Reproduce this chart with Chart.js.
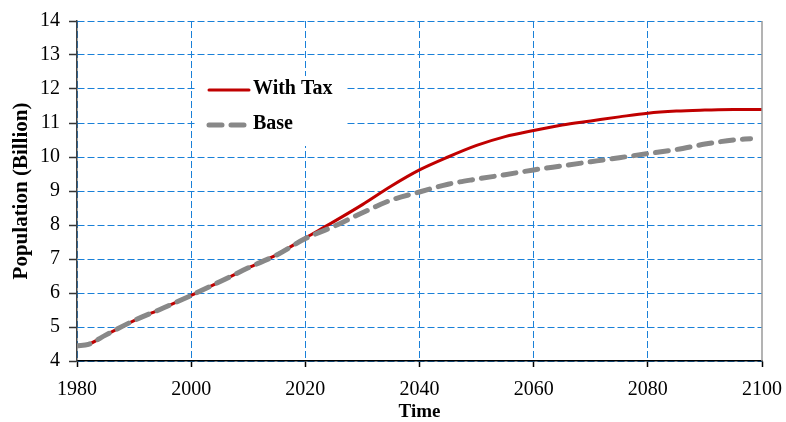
<!DOCTYPE html>
<html>
<head>
<meta charset="utf-8">
<script src="https://cdn.jsdelivr.net/npm/chart.js@4/dist/chart.umd.min.js"></script>
<style>
  html, body { margin: 0; padding: 0; background: #fff; }
  #wrap { width: 786px; height: 422px; }
</style>
</head>
<body>
<div id="wrap"><canvas id="c" width="786" height="422"></canvas></div>
<script>
// Population projections, billions
const taxYears = [1980,1982,1985,1990,1995,2000,2005,2010,2015,2020,2025,2030,2035,2040,2045,2050,2055,2060,2065,2070,2075,2080,2085,2090,2095,2100];
const withTax  = [4.45,4.49,4.76,5.19,5.55,5.93,6.33,6.74,7.13,7.62,8.10,8.60,9.14,9.62,10.00,10.34,10.60,10.78,10.94,11.06,11.18,11.29,11.35,11.38,11.40,11.40];
const baseYears = [1980,1982,1985,1990,1995,2000,2005,2010,2015,2020,2025,2030,2035,2040,2045,2050,2055,2060,2065,2070,2075,2080,2085,2090,2095,2098];
const base      = [4.45,4.49,4.76,5.19,5.55,5.93,6.33,6.74,7.12,7.60,7.96,8.36,8.73,8.97,9.20,9.35,9.48,9.62,9.74,9.86,9.98,10.10,10.22,10.38,10.50,10.54];
const xTicks = [1980,2000,2020,2040,2060,2080,2100];
const yMin = 4, yMax = 14;

const serif = "'Liberation Serif', 'Times New Roman', serif";
const gridBlue = '#1a80d8';

const toPoints = (xs, ys) => xs.map((x, i) => ({ x: x, y: ys[i] }));

// White legend panel with line samples, drawn inside the plot area
const legendPanel = {
  id: 'legendPanel',
  beforeDatasetsDraw(chart) {
    const { ctx, chartArea: a } = chart;
    const x0 = a.left + 119, y0 = a.top + 55;
    ctx.save();
    ctx.fillStyle = '#fff';
    ctx.fillRect(x0, y0, 149, 70);
    const items = [chart.data.datasets[1], chart.data.datasets[0]];
    items.forEach((ds, i) => {
      const y = a.top + 69 + i * 35;
      ctx.beginPath();
      ctx.lineWidth = ds.borderWidth;
      ctx.strokeStyle = ds.borderColor;
      ctx.lineCap = 'round';
      ctx.setLineDash(ds.borderDash || []);
      ctx.moveTo(x0 + 13, y);
      ctx.lineTo(x0 + 53, y);
      ctx.stroke();
      ctx.setLineDash([]);
      ctx.fillStyle = '#000';
      ctx.font = 'bold 20px ' + serif;
      ctx.textBaseline = 'middle';
      ctx.textAlign = 'left';
      ctx.fillText(ds.label, x0 + 57, y - 1);
    });
    ctx.restore();
  },
  afterDatasetsDraw(chart) {
    const { ctx, chartArea: a } = chart;
    ctx.save();
    ctx.strokeStyle = '#9a9a9a';
    ctx.lineWidth = 1.5;
    ctx.beginPath();
    ctx.moveTo(a.right, a.top);
    ctx.lineTo(a.right, a.bottom);
    ctx.stroke();
    ctx.restore();
  }
};

new Chart(document.getElementById('c'), {
  type: 'line',
  data: {
    datasets: [
      {
        label: 'Base',
        data: toPoints(baseYears, base),
        borderColor: '#888888',
        borderWidth: 5,
        borderDash: [13, 9],
        borderCapStyle: 'round',
        pointRadius: 0,
        cubicInterpolationMode: 'monotone',
        order: 0
      },
      {
        label: 'With Tax',
        data: toPoints(taxYears, withTax),
        borderColor: '#c00000',
        borderWidth: 3,
        pointRadius: 0,
        cubicInterpolationMode: 'monotone',
        order: 1
      }
    ]
  },
  options: {
    responsive: false,
    animation: false,
    layout: { padding: { top: 15, right: 24, left: 0, bottom: 0 } },
    plugins: { legend: { display: false }, tooltip: { enabled: false } },
    scales: {
      x: {
        type: 'linear',
        min: 1980, max: 2100,
        afterBuildTicks: s => { s.ticks = xTicks.map(v => ({ value: v })); },
        afterFit: s => { s.height = 61; s.paddingRight = 0; s.paddingLeft = 0; },
        ticks: { color: '#000', font: { family: serif, size: 20 }, padding: 11, maxRotation: 0, autoSkip: false,
                 callback: v => String(v) },
        grid: {
          color: c => (c.tick && c.tick.value === 2100) ? 'rgba(0,0,0,0)' : gridBlue,
          lineWidth: 1, tickLength: 6, tickColor: '#000', tickWidth: 1.5
        },
        border: { display: true, color: '#000', width: 1.5, dash: [7, 3] },
        title: { display: true, text: 'Time', color: '#000', font: { family: serif, size: 19, weight: 'bold', lineHeight: 1 }, padding: { top: 0, bottom: 0 } }
      },
      y: {
        min: yMin, max: yMax,
        ticks: { stepSize: 1, color: '#000', font: { family: serif, size: 20 }, padding: 9 },
        afterFit: s => { s.width = 77; },
        grid: { color: gridBlue, lineWidth: 1, tickLength: 8, tickColor: '#333', tickWidth: 1.5 },
        border: { display: true, color: '#444', width: 1.5, dash: [7, 3] },
        title: { display: true, text: 'Population (Billion)', color: '#000', font: { family: serif, size: 21, weight: 'bold' }, padding: { top: 9, bottom: 0 } }
      }
    }
  },
  plugins: [legendPanel]
});
</script>
</body>
</html>
